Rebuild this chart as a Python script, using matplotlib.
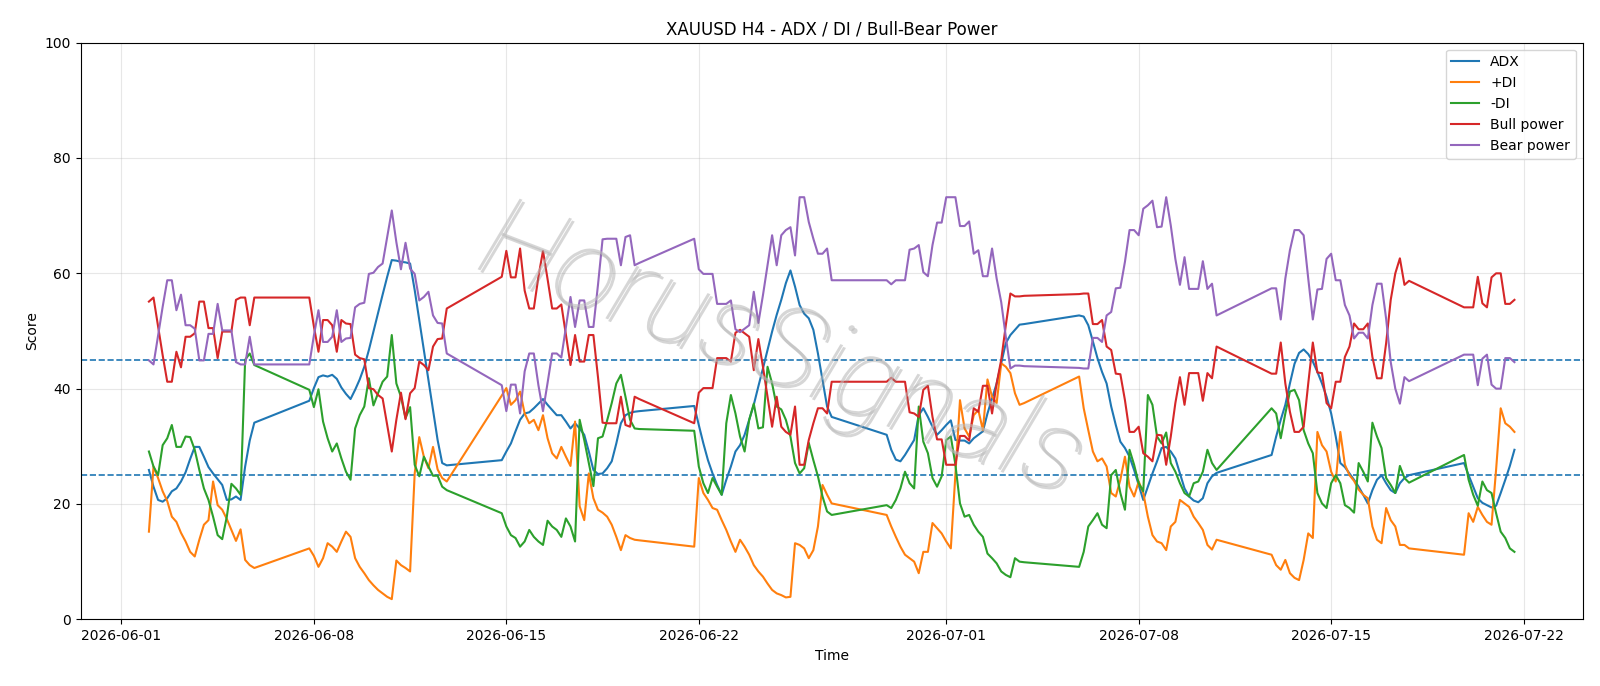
import matplotlib
matplotlib.use("Agg")
import matplotlib.pyplot as plt
import matplotlib.patheffects as pe
import numpy as np
import pandas as pd

# ---- bar schedule (H4 bars, trading weeks) ----
week_starts = ["2026-06-02 00:00", "2026-06-07 20:00", "2026-06-14 20:00", "2026-06-21 20:00",
               "2026-06-28 20:00", "2026-07-05 20:00", "2026-07-12 20:00", "2026-07-19 20:00"]
week_bars = [24, 31, 31, 31, 31, 31, 31, 12]

# ---- series values ----
adx = [
    25.9, 23.0, 20.7, 20.4, 21.0, 22.2, 22.7, 23.9, 25.5, 27.8, 29.9, 29.9, 28.2, 26.4, 25.3, 24.3, 23.3, 20.7, 20.8, 21.3, 20.7, 26.5, 31.0, 34.1,
    37.9, 40.1, 42.0, 42.3, 42.1, 42.4, 41.7, 40.2, 39.1, 38.2, 39.8, 41.6, 43.8, 46.7, 49.9, 53.1, 56.3, 59.4, 62.3, 62.2, 62.0, 61.9, 61.7, 57.1, 51.9, 46.7, 41.5, 36.3, 31.1, 27.1, 26.7,
    27.6, 29.1, 30.5, 32.6, 34.6, 35.7, 35.9, 36.6, 37.4, 38.2, 37.2, 36.3, 35.4, 35.4, 34.3, 33.1, 34.0, 33.1, 32.0, 29.1, 25.9, 25.2, 25.3, 26.2, 27.4, 30.5, 34.0, 35.4, 35.8, 36.0, 36.1,
    37.0, 33.7, 30.5, 27.6, 25.3, 23.3, 21.6, 24.2, 26.5, 29.1, 30.2, 32.0, 34.6, 37.2, 40.4, 43.5, 46.7, 49.9, 52.8, 55.4, 58.3, 60.5, 57.7, 54.5, 53.0, 52.2, 50.2, 46.1, 41.5, 36.9, 35.1,
    32.0, 29.4, 27.7, 27.4, 28.5, 29.8, 31.1, 35.4, 36.6, 35.1, 33.4, 32.0, 32.8, 33.7, 34.5, 31.1, 31.0, 31.0, 30.5, 31.4, 32.0, 32.6, 35.7, 38.3, 40.9, 44.4, 47.9, 49.3, 50.2, 51.1, 51.2,
    52.7, 52.5, 51.0, 48.2, 45.3, 42.9, 40.9, 36.9, 33.7, 30.8, 29.7, 28.2, 25.9, 23.3, 20.7, 23.0, 25.3, 27.4, 29.7, 29.9, 29.1, 27.9, 25.3, 22.7, 21.3, 20.6, 20.3, 21.0, 23.6, 24.8, 25.4,
    28.5, 31.7, 34.6, 37.2, 40.9, 44.3, 46.2, 46.8, 46.0, 44.7, 42.9, 40.9, 38.6, 35.7, 31.7, 27.1, 26.4, 25.3, 24.2, 23.0, 21.6, 20.1, 22.4, 24.2, 25.0, 23.6, 22.4, 21.9, 23.6, 24.5, 25.0,
    27.1, 25.0, 23.0, 21.0, 20.2, 19.8, 19.4, 19.7, 21.9, 24.2, 26.6, 29.4,
]
plus_di = [
    15.2, 26.5, 24.5, 22.2, 20.5, 17.8, 16.9, 15.0, 13.5, 11.7, 10.9, 13.8, 16.4, 17.2, 23.9, 19.8, 19.0, 17.4, 15.5, 13.6, 15.6, 10.3, 9.4, 8.9,
    12.3, 11.0, 9.1, 10.6, 13.2, 12.6, 11.7, 13.5, 15.2, 14.3, 10.6, 9.1, 8.0, 6.8, 5.9, 5.1, 4.5, 3.9, 3.5, 10.2, 9.4, 8.9, 8.3, 25.3, 31.6, 28.2, 26.2, 29.9, 26.0, 24.5, 23.9,
    38.8, 40.1, 37.2, 38.0, 39.5, 35.7, 34.0, 34.6, 32.8, 35.4, 31.4, 28.8, 27.9, 29.9, 28.2, 26.6, 34.3, 19.6, 17.2, 25.3, 21.0, 19.0, 18.5, 17.8, 16.4, 14.3, 12.0, 14.6, 14.1, 13.8, 13.7,
    12.6, 24.5, 21.9, 20.7, 19.3, 19.0, 17.2, 15.5, 13.5, 11.7, 13.8, 12.6, 11.2, 9.4, 8.3, 7.4, 6.2, 5.1, 4.5, 4.2, 3.8, 3.9, 13.2, 12.9, 12.3, 10.6, 12.0, 16.1, 23.3, 21.6, 20.1,
    18.1, 16.1, 14.3, 12.6, 11.2, 10.6, 10.0, 8.0, 11.7, 11.7, 16.7, 15.8, 14.9, 13.5, 12.3, 25.0, 38.0, 33.1, 31.7, 35.4, 36.3, 32.8, 41.6, 38.6, 37.5, 44.4, 43.8, 42.7, 39.2, 37.2, 37.5,
    42.1, 36.6, 32.8, 29.1, 27.4, 27.9, 26.5, 21.9, 21.3, 24.2, 28.2, 23.0, 21.3, 23.9, 21.9, 17.8, 14.6, 13.5, 13.2, 12.0, 16.1, 16.9, 20.7, 20.1, 19.5, 17.8, 16.7, 15.5, 12.9, 12.1, 13.8,
    11.2, 9.4, 8.6, 10.3, 8.0, 7.2, 6.8, 10.3, 14.9, 14.1, 32.5, 30.2, 29.1, 25.6, 23.9, 32.5, 26.8, 25.0, 24.0, 22.5, 21.6, 21.0, 16.1, 13.8, 13.2, 19.3, 17.2, 16.1, 12.9, 12.9, 12.3,
    11.2, 18.4, 16.9, 19.5, 18.1, 16.9, 16.4, 26.0, 36.6, 34.0, 33.4, 32.5,
]
minus_di = [
    29.1, 26.5, 25.0, 30.2, 31.4, 33.7, 29.9, 29.9, 31.7, 31.6, 29.4, 25.9, 22.7, 20.7, 17.8, 14.6, 13.9, 17.8, 23.5, 22.7, 21.6, 45.0, 46.1, 44.1,
    39.8, 36.8, 39.9, 34.3, 31.4, 29.1, 30.5, 27.9, 25.6, 24.2, 33.1, 35.4, 36.9, 41.8, 37.1, 39.2, 41.2, 42.1, 49.3, 40.9, 38.6, 34.9, 36.8, 26.8, 24.8, 28.2, 26.5, 24.9, 24.9, 23.0, 22.4,
    18.4, 16.1, 14.6, 14.1, 12.6, 13.5, 15.5, 14.3, 13.5, 12.9, 17.1, 16.1, 15.5, 14.3, 17.5, 16.1, 13.5, 34.6, 31.1, 27.1, 23.1, 31.4, 31.7, 34.5, 37.5, 40.9, 42.4, 38.6, 34.6, 33.1, 33.0,
    32.7, 26.5, 23.6, 21.9, 24.5, 23.0, 21.6, 34.0, 38.9, 35.7, 31.7, 29.1, 34.6, 37.4, 33.1, 33.3, 43.8, 40.9, 36.9, 36.4, 34.6, 31.7, 27.1, 25.3, 26.2, 30.6, 27.6, 24.8, 21.3, 18.7, 18.1,
    19.8, 19.3, 20.7, 22.7, 25.6, 23.6, 22.7, 36.9, 30.8, 28.8, 24.5, 23.0, 24.8, 31.1, 31.7, 26.8, 20.1, 17.8, 18.1, 16.4, 15.2, 14.3, 11.4, 10.6, 9.7, 8.3, 7.7, 7.3, 10.6, 10.0, 9.9,
    9.1, 11.7, 16.1, 17.2, 18.4, 16.4, 15.8, 25.0, 25.9, 21.9, 19.0, 29.4, 26.8, 23.6, 22.2, 38.9, 37.2, 31.7, 30.5, 32.4, 27.1, 25.6, 23.6, 21.9, 21.3, 23.6, 23.9, 25.6, 29.4, 27.1, 25.9,
    36.6, 35.7, 31.4, 35.7, 39.5, 39.8, 38.0, 32.8, 30.5, 28.8, 21.9, 20.1, 19.3, 23.6, 25.0, 23.6, 19.8, 19.3, 18.5, 27.1, 25.6, 23.9, 34.1, 31.7, 29.7, 24.5, 23.3, 21.9, 26.6, 24.5, 23.7,
    28.5, 24.2, 21.6, 19.7, 23.9, 22.4, 21.9, 18.4, 15.2, 14.1, 12.3, 11.7,
]
bull_power = [
    55.1, 55.8, 50.8, 45.8, 41.2, 41.2, 46.4, 43.7, 49.0, 49.0, 49.6, 55.1, 55.1, 50.5, 50.5, 45.3, 49.9, 49.9, 49.9, 55.4, 55.8, 55.8, 51.0, 55.8,
    55.8, 50.8, 46.4, 51.9, 51.9, 51.0, 46.4, 51.9, 51.3, 51.2, 45.9, 45.3, 45.1, 40.1, 39.9, 38.9, 38.3, 33.7, 29.1, 34.6, 39.3, 34.7, 39.2, 40.1, 44.7, 44.1, 43.2, 47.3, 48.6, 48.7, 53.9,
    59.4, 63.9, 59.3, 59.3, 64.3, 57.0, 53.9, 53.9, 59.4, 63.9, 59.0, 53.9, 53.9, 54.6, 49.3, 44.1, 49.3, 44.7, 44.7, 49.3, 49.3, 42.0, 34.1, 34.0, 34.0, 34.0, 38.6, 33.7, 33.4, 38.6, 38.2,
    34.0, 39.3, 40.1, 40.1, 40.1, 45.3, 45.3, 45.3, 44.7, 49.7, 50.2, 49.6, 49.0, 43.2, 48.6, 43.8, 38.6, 33.4, 38.6, 33.4, 32.5, 32.0, 36.9, 26.8, 26.8, 31.1, 34.0, 36.6, 36.6, 35.7, 41.2,
    41.2, 41.9, 41.2, 41.2, 41.2, 35.9, 35.7, 35.1, 39.8, 40.5, 35.1, 31.2, 31.2, 26.8, 26.8, 26.8, 31.8, 31.8, 31.0, 36.6, 36.0, 40.5, 40.5, 35.7, 40.9, 45.0, 51.0, 56.5, 56.0, 56.0, 56.1,
    56.4, 56.5, 56.5, 51.2, 51.2, 51.9, 47.3, 46.7, 42.6, 42.5, 38.0, 32.5, 32.5, 33.4, 28.8, 28.2, 27.4, 32.0, 31.9, 26.8, 31.7, 37.5, 42.0, 37.2, 42.7, 42.7, 42.7, 37.9, 42.7, 41.8, 47.3,
    42.6, 42.6, 48.0, 40.9, 36.0, 32.5, 32.5, 33.4, 40.9, 48.0, 42.8, 42.7, 37.5, 36.6, 41.2, 41.2, 45.5, 47.3, 51.3, 50.3, 50.3, 51.3, 45.5, 41.8, 41.8, 47.9, 55.4, 60.0, 62.6, 58.0, 58.7,
    54.1, 54.1, 54.1, 59.4, 54.8, 54.1, 59.3, 60.0, 60.0, 54.7, 54.7, 55.4,
]
bear_power = [
    44.9, 44.2, 49.2, 54.2, 58.8, 58.8, 53.6, 56.3, 51.0, 51.0, 50.4, 44.9, 44.9, 49.5, 49.5, 54.7, 50.1, 50.1, 50.1, 44.6, 44.2, 44.2, 49.0, 44.2,
    44.2, 49.2, 53.6, 48.1, 48.1, 49.0, 53.6, 48.1, 48.7, 48.8, 54.1, 54.7, 54.9, 59.9, 60.1, 61.1, 61.7, 66.3, 70.9, 65.4, 60.7, 65.3, 60.8, 59.9, 55.3, 55.9, 56.8, 52.7, 51.4, 51.3, 46.1,
    40.6, 36.1, 40.7, 40.7, 35.7, 43.0, 46.1, 46.1, 40.6, 36.1, 41.0, 46.1, 46.1, 45.4, 50.7, 55.9, 50.7, 55.3, 55.3, 50.7, 50.7, 58.0, 65.9, 66.0, 66.0, 66.0, 61.4, 66.3, 66.6, 61.4, 61.8,
    66.0, 60.7, 59.9, 59.9, 59.9, 54.7, 54.7, 54.7, 55.3, 50.3, 49.8, 50.4, 51.0, 56.8, 51.4, 56.2, 61.4, 66.6, 61.4, 66.6, 67.5, 68.0, 63.1, 73.2, 73.2, 68.9, 66.0, 63.4, 63.4, 64.3, 58.8,
    58.8, 58.1, 58.8, 58.8, 58.8, 64.1, 64.3, 64.9, 60.2, 59.5, 64.9, 68.8, 68.8, 73.2, 73.2, 73.2, 68.2, 68.2, 69.0, 63.4, 64.0, 59.5, 59.5, 64.3, 59.1, 55.0, 49.0, 43.5, 44.0, 44.0, 43.9,
    43.6, 43.5, 43.5, 48.8, 48.8, 48.1, 52.7, 53.3, 57.4, 57.5, 62.0, 67.5, 67.5, 66.6, 71.2, 71.8, 72.6, 68.0, 68.1, 73.2, 68.3, 62.5, 58.0, 62.8, 57.3, 57.3, 57.3, 62.1, 57.3, 58.2, 52.7,
    57.4, 57.4, 52.0, 59.1, 64.0, 67.5, 67.5, 66.6, 59.1, 52.0, 57.2, 57.3, 62.5, 63.4, 58.8, 58.8, 54.5, 52.7, 48.7, 49.7, 49.7, 48.7, 54.5, 58.2, 58.2, 52.1, 44.6, 40.0, 37.4, 42.0, 41.3,
    45.9, 45.9, 45.9, 40.6, 45.2, 45.9, 40.7, 40.0, 40.0, 45.3, 45.3, 44.6,
]

threshold_levels = [25, 45]

# ---- timestamps ----
times = pd.DatetimeIndex(np.concatenate(
    [pd.date_range(s, periods=n, freq="4h").values for s, n in zip(week_starts, week_bars)]))

fig, ax = plt.subplots(figsize=(16, 6.86), dpi=100)
fig.subplots_adjust(left=0.0504, right=0.9892, bottom=0.0972, top=0.9378)

lw = 1.5
ax.plot(times, adx, color="#1f77b4", lw=lw, label="ADX", zorder=3)
ax.plot(times, plus_di, color="#ff7f0e", lw=lw, label="+DI", zorder=3)
ax.plot(times, minus_di, color="#2ca02c", lw=lw, label="-DI", zorder=3)
ax.plot(times, bull_power, color="#d62728", lw=lw, label="Bull power", zorder=3)
ax.plot(times, bear_power, color="#9467bd", lw=lw, label="Bear power", zorder=3)

for lvl in threshold_levels:
    ax.axhline(lvl, color="#1f77b4", ls="--", lw=1.2, zorder=2)

ax.text(0.466, 0.462, "HorusSignals", transform=ax.transAxes, fontsize=82,
        family=["Roboto", "DejaVu Sans"], fontweight="light",
        rotation=-21, ha="center", va="center", style="italic",
        color="#bcbcbc", alpha=0.6, zorder=5,
        path_effects=[pe.withSimplePatchShadow(offset=(2, -2), shadow_rgbFace="#8c8c8c", alpha=0.35)])

ax.set_ylim(0, 100)
ax.grid(True, color="#b0b0b0", alpha=0.3, lw=0.8)
ax.set_title("XAUUSD H4 - ADX / DI / Bull-Bear Power", fontsize=12)
ax.set_xlabel("Time")
ax.set_ylabel("Score")
ax.legend(loc="upper right")

fig.savefig("out.png", dpi=100)
